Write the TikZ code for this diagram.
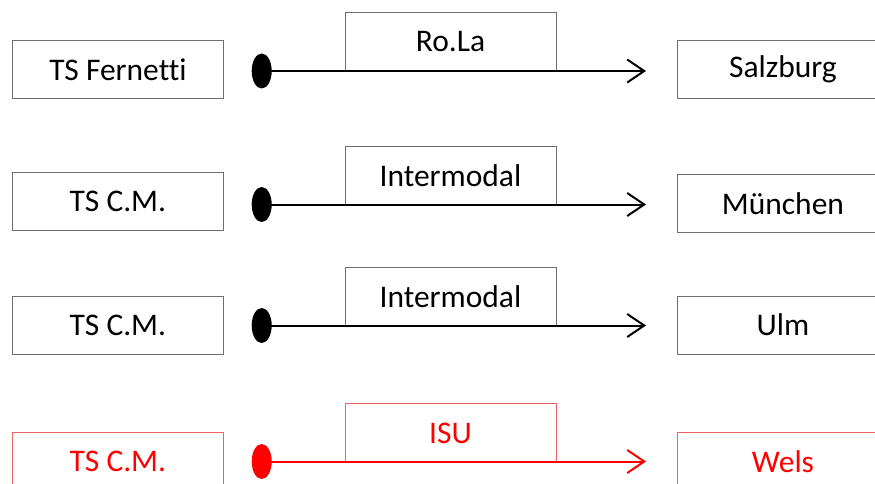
\documentclass[tikz,border=0pt]{standalone}
\usepackage{fontspec}
\setmainfont{Carlito}[Ligatures=NoCommon]
\usetikzlibrary{shapes.geometric,arrows.meta}
\definecolor{boxgray}{HTML}{6E6E6E}
\definecolor{redbox}{HTML}{F06060}
\begin{document}
\begin{tikzpicture}[x=1pt,y=-1pt,
  box/.style={draw=boxgray, line width=0.9pt, minimum width=211pt, minimum height=58pt,
    inner sep=0pt, anchor=north west, font=\fontsize{31.5}{31.5}\selectfont},
  midbox/.style={box, minimum height=59pt},
  dot/.style={ellipse, fill=black, minimum width=20pt, minimum height=35pt, inner sep=0pt},
  conn/.style={line width=2pt, -{Straight Barb[length=17pt,width=23pt,line width=2pt]}},
  redrow/.style={draw=redbox, text=red},
]
\useasboundingbox (0,0) rectangle (875,484);
\clip (0,0) rectangle (875,484);

% Row 1
\node[box]    (L1) at (12,40)    {TS Fernetti};
\node[midbox] (M1) at (344.5,12) {Ro.La};
\node[box]    (R1) at (677,40)   {Salzburg};
\node[dot]    (D1) at (261.7,71) {};
\coordinate   (T1) at (646,71);
\draw[conn] (D1.center) -- (T1);

% Row 2
\node[box]    (L2) at (12,172)     {TS C.M.};
\node[midbox] (M2) at (344.5,146)  {Intermodal};
\node[box]    (R2) at (677,174)    {München};
\node[dot]    (D2) at (261.7,204.5) {};
\coordinate   (T2) at (646,204.5);
\draw[conn] (D2.center) -- (T2);

% Row 3
\node[box]    (L3) at (12,295.5)   {TS C.M.};
\node[midbox] (M3) at (344.5,266.5){Intermodal};
\node[box]    (R3) at (677,295.5)  {Ulm};
\node[dot]    (D3) at (261.7,325.5){};
\coordinate   (T3) at (646,325.5);
\draw[conn] (D3.center) -- (T3);

% Row 4 (red)
\node[box,redrow]    (L4) at (12,432)    {TS C.M.};
\node[midbox,redrow] (M4) at (344.5,403) {ISU};
\node[box,redrow]    (R4) at (677,432)   {Wels};
\node[dot,fill=red]  (D4) at (261.7,461.5){};
\coordinate          (T4) at (646,461.5);
\draw[conn,draw=red] (D4.center) -- (T4);
\end{tikzpicture}
\end{document}
